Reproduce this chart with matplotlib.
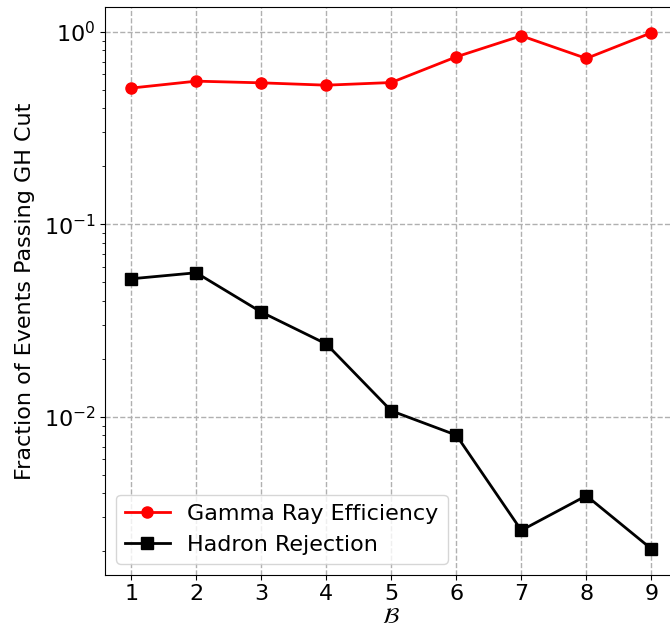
import numpy as np
import matplotlib
matplotlib.use("Agg")
import matplotlib.pyplot as plt

# B parameter values
bValues = [1, 2, 3, 4, 5, 6, 7, 8, 9]

# fraction of gammas passing the cut
gammaEff = [0.51, 0.554, 0.543, 0.528, 0.545, 0.741, 0.953, 0.727, 0.988]

# fraction of hadrons passing the cut
hadronRej = [0.0521, 0.0560, 0.0350, 0.0239, 0.01074, 0.00803, 0.00257, 0.00389, 0.00206]

fig = plt.figure(figsize=(6.7, 6.35), dpi=100)
# right spine falls just outside the picture, as in the original crop
ax = fig.add_axes([0.157, 0.095, 0.854, 0.894])

ax.plot(bValues, gammaEff, color="red", marker="o", markersize=8, linewidth=2,
        label="Gamma Ray Efficiency")
ax.plot(bValues, hadronRej, color="black", marker="s", markersize=8, linewidth=2,
        label="Hadron Rejection")

ax.set_yscale("log")
ax.set_xticks(bValues)
ax.grid(True, linestyle="--", color="#b0b0b0", linewidth=1)

ax.tick_params(axis="both", labelsize=16)
ax.set_xlabel(r"$\mathcal{B}$", fontsize=16, labelpad=2)
ax.set_ylabel("Fraction of Events Passing GH Cut", fontsize=16, labelpad=6)

ax.legend(loc="lower left", fontsize=16)

fig.savefig("out.png")
